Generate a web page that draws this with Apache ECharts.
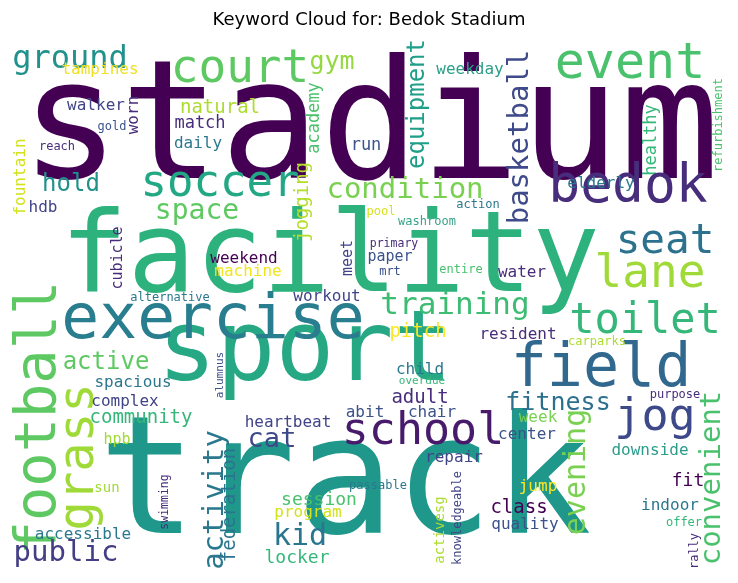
<!DOCTYPE html>
<html><head><meta charset="utf-8">
<script src="https://cdn.jsdelivr.net/npm/echarts@6/dist/echarts.min.js"></script>
<style>html,body{margin:0;padding:0;background:#fff}#c{width:738px;height:583px}</style>
</head><body><div id="c"></div>
<script>
// word, weight (font size)
const words = ["stadium","facility","sport","track","exercise","football","grass","court","ground","gym","tampines","event","equipment","basketball","weekday","healthy","refurbishment","walker","worn","gold","natural","match","daily","academy","run","reach","fountain","hold","soccer","condition","bedok","elderly","space","hdb","jogging","cubicle","weekend","machine","meet","alternative","workout","pool","action","washroom","seat","primary","paper","mrt","entire","water","lane","training","toilet","field","school","jog","fitness","convenient","evening","purpose","carparks","resident","pitch","child","overdue","adult","chair","week","center","downside","repair","fit","jump","passable","knowledgeable","activesg","class","quality","indoor","offer","rally","active","spacious","complex","community","alumnus","hpb","heartbeat","abit","cat","activity","federation","swimming","sun","session","program","accessible","public","kid","locker"];
const weights = [166,112,98,164,63,57,49,46,32,25,16,50,24,29,16,17,12,16,16,12,19,17,16,17,17,12,16,24,44,29,53,16,28,16,19,15,16,16,15,12,16,12,12,12,41,11.5,15,12,12,16,46,31,42,60,45,45,25,29,30,12,12,16,19,16,11,19,16,16,16,16,16,18,16,12,12,14,19,16,16,12,12,24,16,16,19,11,15,16,16,27,29,19,11.5,14,18,16,16,29,30,18];
// layout (cloud placement) in axis units
const posX = [370,330,305,345,213,40,80,240,70,332,100,630,418,520,470,652,719,96,134,112,220,200,198,315,366,57,21,71,220,405,628,601,197,43,303,118,244,248,348,170,327,381,478,427,665,394,390,390,461,522,650,455,645,601,423,655,558,712,577,675,597,518,418,420,422,420,432,538,527,650,454,688,538,378,458,440,519,525,670,684,695,106,133,125,141,220,117,288,365,272,215,230,165,107,319,308,83,66,300,297];
const posY = [135,262,355,490,322,418,457,70,60,62,70,65,104,137,70,140,125,106,115,127,108,124,144,118,146,147,177,185,185,190,188,184,212,208,202,258,259,272,258,298,297,212,205,222,242,244,257,272,270,273,275,306,322,370,432,418,403,478,472,395,342,335,332,370,381,398,413,418,435,451,458,481,487,486,518,530,508,525,506,523,551,363,383,402,418,375,440,423,413,440,500,505,502,488,500,513,535,553,537,558];
const rots = words.map(()=>0);
["football","grass","equipment","basketball","healthy","refurbishment","worn","academy","fountain","jogging","cubicle","meet","convenient","evening","knowledgeable","activesg","rally","alumnus","activity","federation","swimming"].forEach(w=>{rots[words.indexOf(w)]=90;});
const colors = ["#440154","#2db27d","#25a883","#1f988b","#287d8e","#5ec962","#a0da39","#5ec962","#21918c","#95d840","#f0e020","#4ac16d","#1f9e89","#3e4a89","#2c9f87","#35b779","#4ac16d","#414487","#472d7b","#3b528b","#addc30","#472d7b","#2a788e","#4ac16d","#3b528b","#472d7b","#d2e21b","#21918c","#22a884","#7ad151","#472d7b","#2a788e","#5ec962","#414487","#b5de2b","#472d7b","#440154","#f1e51d","#414487","#2a788e","#414487","#d8e219","#2a788e","#38a38b","#2c728e","#472d7b","#3b528b","#3b528b","#48c16e","#472d7b","#a0da39","#3dbc74","#35b779","#31688e","#481a6c","#3e4989","#2d708e","#4ac16d","#7ad151","#472d7b","#addc30","#472d7b","#fde725","#2a788e","#35b779","#472d7b","#3b528b","#7ad151","#3b528b","#2a9c8a","#414487","#440154","#fde725","#2a788e","#414487","#addc30","#440154","#3b528b","#2a788e","#35b779","#472d7b","#5ec962","#2a788e","#414487","#35b779","#3b528b","#a0da39","#414487","#3b528b","#3e4989","#2a788e","#2c738e","#472d7b","#a0da39","#4ac16d","#d2e21b","#2a788e","#433e85","#2a768e","#35b779"];

const data = words.map((w,i)=>({
  value:[posX[i],posY[i]], name:w,
  label:{show:true,formatter:w,fontSize:weights[i],rotate:rots[i],color:colors[i]}
}));
const chart = echarts.init(document.getElementById('c'));
chart.setOption({
  animation:false,
  title:{text:'Keyword Cloud for: Bedok Stadium',left:'center',top:6,textStyle:{fontFamily:'DejaVu Sans',fontSize:18,fontWeight:'normal',color:'#000'}},
  grid:{left:0,right:0,top:0,bottom:0},
  xAxis:{type:'value',min:0,max:738,show:false},
  yAxis:{type:'value',min:0,max:583,inverse:true,show:false},
  series:[{type:'scatter',symbolSize:0,data:data,itemStyle:{opacity:1},
    label:{show:true,position:'inside',opacity:1,fontFamily:'DejaVu Sans Mono',align:'center',verticalAlign:'middle'},
    labelLayout:{hideOverlap:false}}]
});
</script></body></html>
